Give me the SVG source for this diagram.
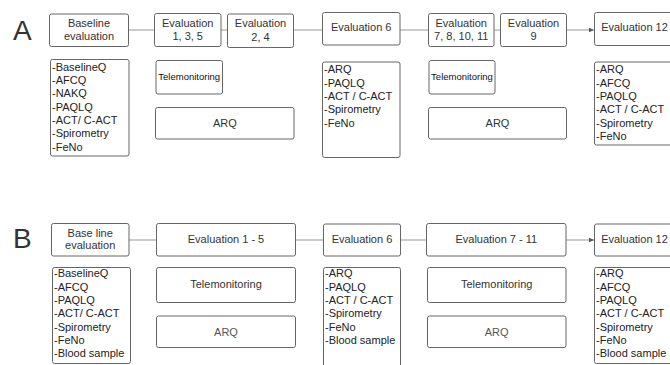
<svg xmlns="http://www.w3.org/2000/svg" width="670" height="365" viewBox="0 0 670 365">
<defs>
<style>
.box{fill:#fff;stroke:#666;stroke-width:1}
.t{font-family:"Liberation Sans",Arial,sans-serif;font-size:11px;fill:#333;text-anchor:middle}
.l{font-family:"Liberation Sans",Arial,sans-serif;font-size:11px;fill:#222}
.tm{font-family:"Liberation Sans",Arial,sans-serif;font-size:9.5px;fill:#111;text-anchor:middle}
.big{font-family:"Liberation Sans",Arial,sans-serif;font-size:28px;fill:#333}
.c{stroke:#999;stroke-width:1;fill:none}
</style>
<marker id="arr" markerWidth="6" markerHeight="6" refX="5" refY="3" orient="auto" markerUnits="userSpaceOnUse">
<path d="M0,0.8 L5,3 L0,5.2 Z" fill="#555"/>
</marker>
</defs>
<rect width="670" height="365" fill="#fff"/>
<text class="big" x="13" y="40">A</text>
<text class="big" x="13" y="248">B</text>

<g id="connectors">
<line class="c" x1="128.5" y1="30" x2="154.5" y2="30"/>
<line class="c" x1="221" y1="30" x2="227.5" y2="30"/>
<line class="c" x1="293.5" y1="30" x2="322.5" y2="30"/>
<line class="c" x1="400" y1="30" x2="428.5" y2="30"/>
<line class="c" x1="494" y1="30" x2="500.5" y2="30"/>
<line class="c" x1="566.5" y1="30" x2="594" y2="30" marker-end="url(#arr)"/>
<line class="c" x1="129" y1="240" x2="156.5" y2="240"/>
<line class="c" x1="295.5" y1="240" x2="323.5" y2="240"/>
<line class="c" x1="400.5" y1="240" x2="426.5" y2="240"/>
<line class="c" x1="566" y1="240" x2="594" y2="240" marker-end="url(#arr)"/>
</g>

<g id="a-baseline">
<rect class="box" x="49.5" y="14" width="79" height="32.5" rx="2"/>
<text class="t" x="89" y="27.3">Baseline</text>
<text class="t" x="89" y="40">evaluation</text>
</g>
<g id="a-eval135">
<rect class="box" x="154.5" y="13.5" width="66.5" height="33" rx="2"/>
<text class="t" x="187.7" y="26.7">Evaluation</text>
<text class="t" x="187.7" y="40">1, 3, 5</text>
</g>
<g id="a-eval24">
<rect class="box" x="227.5" y="14" width="66" height="33.5" rx="2"/>
<text class="t" x="260.5" y="27.3">Evaluation</text>
<text class="t" x="260.5" y="40.7">2, 4</text>
</g>
<g id="a-eval6">
<rect class="box" x="322.5" y="12.5" width="77.5" height="32.5" rx="2"/>
<text class="t" x="361.2" y="31">Evaluation 6</text>
</g>
<g id="a-eval7-11">
<rect class="box" x="428.5" y="13.5" width="65.5" height="33" rx="2"/>
<text class="t" x="461.2" y="26.7">Evaluation</text>
<text class="t" x="461.2" y="40">7, 8, 10, 11</text>
</g>
<g id="a-eval9">
<rect class="box" x="500.5" y="13.5" width="66" height="33" rx="2"/>
<text class="t" x="533.5" y="26.7">Evaluation</text>
<text class="t" x="533.5" y="40">9</text>
</g>
<g id="a-eval12">
<rect class="box" x="594.5" y="12.5" width="80" height="33" rx="2"/>
<text class="t" x="634.5" y="31">Evaluation 12</text>
</g>

<g id="a-baseline-list">
<rect class="box" x="50.5" y="59.5" width="78.5" height="96.5" rx="2"/>
<text class="l" x="52" y="70.7">-BaselineQ</text>
<text class="l" x="52" y="84">-AFCQ</text>
<text class="l" x="52" y="97.3">-NAKQ</text>
<text class="l" x="52" y="110.7">-PAQLQ</text>
<text class="l" x="52" y="124">-ACT/ C-ACT</text>
<text class="l" x="52" y="137.3">-Spirometry</text>
<text class="l" x="52" y="150.7">-FeNo</text>
</g>
<g id="a-tele1">
<rect class="box" x="156" y="60.5" width="66.5" height="33.5" rx="2"/>
<text class="tm" x="189.2" y="80.2">Telemonitoring</text>
</g>
<g id="a-arq1">
<rect class="box" x="155.5" y="107.5" width="138.5" height="31.5" rx="2"/>
<text class="t" x="224.8" y="127.3">ARQ</text>
</g>
<g id="a-eval6-list">
<rect class="box" x="322.5" y="62" width="77.5" height="95.5" rx="2"/>
<text class="l" x="324" y="73.3">-ARQ</text>
<text class="l" x="324" y="86.6">-PAQLQ</text>
<text class="l" x="324" y="99.9">-ACT / C-ACT</text>
<text class="l" x="324" y="113.2">-Spirometry</text>
<text class="l" x="324" y="126.5">-FeNo</text>
</g>
<g id="a-tele2">
<rect class="box" x="429" y="60.5" width="66" height="33.5" rx="2"/>
<text class="tm" x="462" y="80.2">Telemonitoring</text>
</g>
<g id="a-arq2">
<rect class="box" x="428.5" y="107.5" width="138" height="31.5" rx="2"/>
<text class="t" x="497.5" y="127.3">ARQ</text>
</g>
<g id="a-eval12-list">
<rect class="box" x="594.5" y="62" width="80" height="83" rx="2"/>
<text class="l" x="596" y="73.3">-ARQ</text>
<text class="l" x="596" y="86.6">-AFCQ</text>
<text class="l" x="596" y="99.9">-PAQLQ</text>
<text class="l" x="596" y="113.2">-ACT / C-ACT</text>
<text class="l" x="596" y="126.5">-Spirometry</text>
<text class="l" x="596" y="139.8">-FeNo</text>
</g>

<g id="b-baseline">
<rect class="box" x="51.5" y="223.5" width="77.5" height="32.5" rx="2"/>
<text class="t" x="90.2" y="236.5">Base line</text>
<text class="t" x="90.2" y="248.7">evaluation</text>
</g>
<g id="b-eval1-5">
<rect class="box" x="156.5" y="223.5" width="139" height="32.5" rx="2"/>
<text class="t" x="226" y="242.7">Evaluation 1 - 5</text>
</g>
<g id="b-eval6">
<rect class="box" x="323.5" y="224" width="77" height="32" rx="2"/>
<text class="t" x="362" y="243.3">Evaluation 6</text>
</g>
<g id="b-eval7-11">
<rect class="box" x="426.5" y="223.5" width="139.5" height="32.5" rx="2"/>
<text class="t" x="496.3" y="242.7">Evaluation 7 - 11</text>
</g>
<g id="b-eval12">
<rect class="box" x="594.5" y="224" width="80" height="32" rx="2"/>
<text class="t" x="634.5" y="242.7">Evaluation 12</text>
</g>

<g id="b-baseline-list">
<rect class="box" x="52.5" y="267.5" width="78" height="96" rx="2"/>
<text class="l" x="54" y="277.3">-BaselineQ</text>
<text class="l" x="54" y="290.6">-AFCQ</text>
<text class="l" x="54" y="303.9">-PAQLQ</text>
<text class="l" x="54" y="317.2">-ACT/ C-ACT</text>
<text class="l" x="54" y="330.5">-Spirometry</text>
<text class="l" x="54" y="343.8">-FeNo</text>
<text class="l" x="54" y="357.1">-Blood sample</text>
</g>
<g id="b-tele1">
<rect class="box" x="156.5" y="267.5" width="139" height="35" rx="2"/>
<text class="t" x="226" y="288">Telemonitoring</text>
</g>
<g id="b-arq1">
<rect class="box" x="156.5" y="316" width="139" height="31.5" rx="2"/>
<text class="t" x="226" y="335.7" fill="#555" style="fill:#555">ARQ</text>
</g>
<g id="b-eval6-list">
<rect class="box" x="323.5" y="267.5" width="77" height="110" rx="2"/>
<text class="l" x="325" y="277.3">-ARQ</text>
<text class="l" x="325" y="290.6">-PAQLQ</text>
<text class="l" x="325" y="303.9">-ACT / C-ACT</text>
<text class="l" x="325" y="317.2">-Spirometry</text>
<text class="l" x="325" y="330.5">-FeNo</text>
<text class="l" x="325" y="343.8">-Blood sample</text>
</g>
<g id="b-tele2">
<rect class="box" x="427.5" y="267.5" width="138.5" height="35" rx="2"/>
<text class="t" x="496.7" y="288">Telemonitoring</text>
</g>
<g id="b-arq2">
<rect class="box" x="427.5" y="316" width="138.5" height="31.5" rx="2"/>
<text class="t" x="496.7" y="335.7" style="fill:#555">ARQ</text>
</g>
<g id="b-eval12-list">
<rect class="box" x="594.5" y="267.5" width="80" height="96" rx="2"/>
<text class="l" x="596" y="277.3">-ARQ</text>
<text class="l" x="596" y="290.6">-AFCQ</text>
<text class="l" x="596" y="303.9">-PAQLQ</text>
<text class="l" x="596" y="317.2">-ACT / C-ACT</text>
<text class="l" x="596" y="330.5">-Spirometry</text>
<text class="l" x="596" y="343.8">-FeNo</text>
<text class="l" x="596" y="357.1">-Blood sample</text>
</g>
</svg>
